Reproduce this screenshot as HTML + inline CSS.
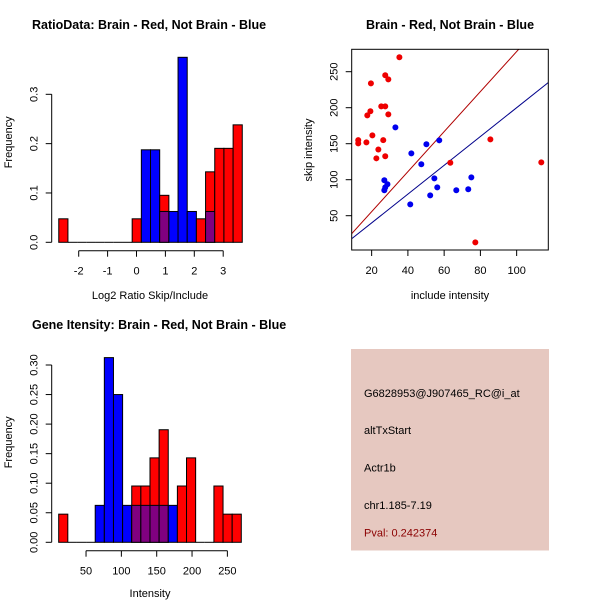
<!DOCTYPE html>
<html><head><meta charset="utf-8"><style>
html,body{margin:0;padding:0;background:#fff;}
svg{display:block;font-family:"Liberation Sans",sans-serif;}
</style></head><body>
<svg id="s" width="600" height="600" viewBox="0 0 600 600" xmlns="http://www.w3.org/2000/svg">
<rect x="351" y="349" width="198" height="201.5" fill="#e6c8c0"/>
<g font-size="11" fill="#000">
<text x="364" y="397">G6828953@J907465_RC@i_at</text>
<text x="364" y="434">altTxStart</text>
<text x="364" y="471.5">Actr1b</text>
<text x="364" y="509">chr1.185-7.19</text>
<text x="364" y="536.5" fill="#8b0000">Pval: 0.242374</text>
</g>
</svg>
<script>
// ---- Histogram 1 data (Log2 ratio) ----
const h1Start = -2.69;
const h1Width = 0.3175;
const h1Red = [1,0,0,0,0,0,0,0,1,0,0,2,0,0,0,1,3,4,4,5];
const h1Blue = [0,0,0,0,0,0,0,0,0,3,3,1,1,6,1,0,1,0,0,0];
const h1XTicks = [-2,-1,0,1,2,3];
const h1YTicks = [0,0.1,0.2,0.3];
const h1YLabels = ["0.0","0.1","0.2","0.3"];
// ---- Histogram 2 data (Intensity) ----
const h2Start = 11.3;
const h2Width = 12.92;
const h2Red = [1,0,0,0,0,0,0,0,2,2,3,4,0,2,3,0,0,2,1,1];
const h2Blue = [0,0,0,0,1,5,4,1,1,1,1,1,1,0,0,0,0,0,0,0];
const h2XTicks = [50,100,150,200,250];
const h2YTicks = [0,0.05,0.10,0.15,0.20,0.25,0.30];
const h2YLabels = ["0.00","0.05","0.10","0.15","0.20","0.25","0.30"];
// ---- Scatter data ----
const redX = [35.3,19.6,27.5,29.2,25.3,27.5,19.3,17.6,29.2,20.4,12.6,12.6,17.1,26.4,23.7,22.6,27.5,63.4,85.5,113.6,77.2];
const redY = [270,233.8,245,239.4,201.9,201.9,195,189.4,190.8,161.6,155,150.5,151.9,155,142,129.7,132.5,123.6,156,124,13];
const blueX = [33.1,57.3,50.2,41.9,47.4,54.6,75.0,56.2,27.0,28.7,27.5,27.0,66.7,73.3,52.3,41.3];
const blueY = [172.7,154.7,149.2,136.6,121.4,101.9,103.3,89.4,99.2,93.6,89.4,85.3,85.3,86.7,78.3,65.8];
const lineSlopes = [2.78,2.0];
const lineColors = ["#b00000","#00008b"];
const scXTicks = [20,40,60,80,100];
const scYTicks = [50,100,150,200,250];

const NS="http://www.w3.org/2000/svg";
const svg=document.getElementById('s');
function mk(tag,attrs,parent){const e=document.createElementNS(NS,tag);for(const k in attrs)e.setAttribute(k,attrs[k]);(parent||svg).appendChild(e);return e;}
function txt(x,y,s,attrs,parent){const t=mk('text',Object.assign({x:x,y:y},attrs||{}),parent);t.textContent=s;return t;}
const PURPLE="#800080";

function histogram(o){
  const g=mk('g',{});
  
  
  const xs=v=>o.x0+v*o.xk, ys=v=>o.y0-v*o.yk;
  const nR=o.red.reduce((a,b)=>a+b,0), nB=o.blue.reduce((a,b)=>a+b,0);
  for(let i=0;i<o.red.length;i++){
    const l=xs(o.start+i*o.w), r=xs(o.start+(i+1)*o.w);
    const fr=o.red[i]/nR, fb=o.blue[i]/nB;
    const lo=Math.min(fr,fb), hi=Math.max(fr,fb);
    const hiCol = fr>fb?'red':'blue';
    if(hi>0){
      const b=mk('rect',{x:l,y:ys(hi),width:r-l,height:ys(0)-ys(hi),fill:hiCol==='red'?'#ff0000':'#0000ff',stroke:'#000','stroke-width':1},g);
      
      
    }
    if(lo>0){
      const b=mk('rect',{x:l,y:ys(lo),width:r-l,height:ys(0)-ys(lo),fill:PURPLE,stroke:'#000','stroke-width':1},g);
      
      
    }
    if(hi===0){
      mk('line',{x1:l,x2:r,y1:ys(0),y2:ys(0),stroke:'#000'},g);
    }
  }
  const ya=mk('g',{},g);
  
  
  const ax=51.7;
  mk('line',{x1:ax,x2:ax,y1:ys(o.yTicks[0]),y2:ys(o.yTicks[o.yTicks.length-1]),stroke:'#000'},ya);
  o.yTicks.forEach((v,i)=>{
    mk('line',{x1:ax-6,x2:ax,y1:ys(v),y2:ys(v),stroke:'#000'},ya);
    const t=txt(0,0,o.yLabels[i],{'font-size':11,'text-anchor':'middle',transform:`translate(${ax-14},${ys(v)}) rotate(-90)`},ya);
    
    
  });
  const xa=mk('g',{},g);
  
  
  const ay=o.y0+8.4;
  mk('line',{x1:xs(o.xTicks[0]),x2:xs(o.xTicks[o.xTicks.length-1]),y1:ay,y2:ay,stroke:'#000'},xa);
  o.xTicks.forEach(v=>{
    mk('line',{x1:xs(v),x2:xs(v),y1:ay,y2:ay+6,stroke:'#000'},xa);
    const t=txt(xs(v),ay+24,String(v),{'font-size':11,'text-anchor':'middle'},xa);
    
    
  });
  const tt=txt(o.titleX,o.titleY,o.title,{'font-size':12.5,'font-weight':'bold'},g);
  
  
  const xl=txt(150,o.xlabY,o.xlab,{'font-size':11,'text-anchor':'middle'},g);
  
  
  const yl=txt(0,0,'Frequency',{'font-size':11,'text-anchor':'middle',transform:`translate(12,${o.y0-100}) rotate(-90)`},g);
  
  
}

histogram({name:'ratio-histogram',start:h1Start,w:h1Width,red:h1Red,blue:h1Blue,x0:136.5,xk:28.9,y0:242.3,yk:493.3,
  xTicks:h1XTicks,yTicks:h1YTicks,yLabels:h1YLabels,title:'RatioData: Brain - Red, Not Brain - Blue',titleX:32,titleY:29,xlab:'Log2 Ratio Skip/Include',xlabY:299});
histogram({name:'intensity-histogram',start:h2Start,w:h2Width,red:h2Red,blue:h2Blue,x0:50.7,xk:0.7067,y0:542.3,yk:591,
  xTicks:h2XTicks,yTicks:h2YTicks,yLabels:h2YLabels,title:'Gene Itensity: Brain - Red, Not Brain - Blue',titleX:32,titleY:329,xlab:'Intensity',xlabY:597});

(function(){
  const g=mk('g',{});
  
  
  const L=351.7,R=548.3,T=49.3,B=250;
  const xs=v=>335.4+v*1.8125, ys=v=>251.7-v*0.72;
  const cp=mk('clipPath',{id:'cp'},g);
  mk('rect',{x:L,y:T,width:R-L,height:B-T},cp);
  const lg=mk('g',{'clip-path':'url(#cp)'},g);
  lineSlopes.forEach((s,i)=>{
    const l=mk('line',{x1:xs(0),y1:ys(0),x2:xs(130),y2:ys(130*s),stroke:lineColors[i],'stroke-width':1},lg);
    
    
  });
  redX.forEach((x,i)=>{
    const c=mk('circle',{cx:xs(x),cy:ys(redY[i]),r:3,fill:'#ee0000'},g);
    
    
  });
  blueX.forEach((x,i)=>{
    const c=mk('circle',{cx:xs(x),cy:ys(blueY[i]),r:3,fill:'#0000ee'},g);
    
    
  });
  const box=mk('rect',{x:L,y:T,width:R-L,height:B-T,fill:'none',stroke:'#000'},g);
  
  
  scXTicks.forEach(v=>{
    mk('line',{x1:xs(v),x2:xs(v),y1:B,y2:B+6,stroke:'#000'},g);
    const t=txt(xs(v),B+24,String(v),{'font-size':11,'text-anchor':'middle'},g);
    
    
  });
  scYTicks.forEach(v=>{
    mk('line',{x1:L-6,x2:L,y1:ys(v),y2:ys(v),stroke:'#000'},g);
    const t=txt(0,0,String(v),{'font-size':11,'text-anchor':'middle',transform:`translate(${L-14},${ys(v)}) rotate(-90)`},g);
    
    
  });
  const tt=txt(450,29,'Brain - Red, Not Brain - Blue',{'font-size':12.5,'font-weight':'bold','text-anchor':'middle'},g);
  
  
  const xl=txt(450,299,'include intensity',{'font-size':11,'text-anchor':'middle'},g);
  
  
  const yl=txt(0,0,'skip intensity',{'font-size':11,'text-anchor':'middle',transform:'translate(312,150) rotate(-90)'},g);
  
  
})();
</script>
</body></html>
